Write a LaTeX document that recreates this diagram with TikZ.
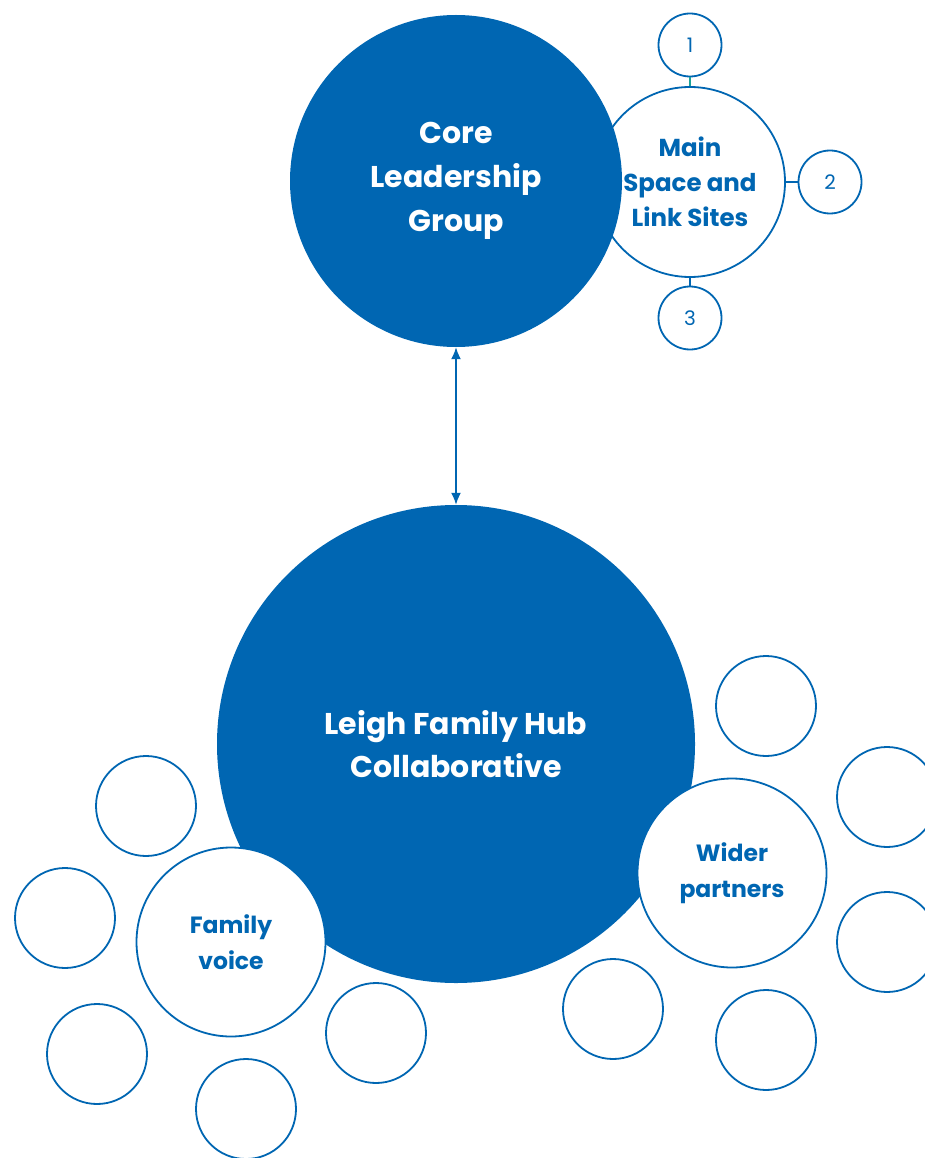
\documentclass[tikz,border=0pt]{standalone}
\usepackage{fontspec}
\setmainfont{Poppins}
\usetikzlibrary{arrows.meta,positioning}
\definecolor{hubblue}{HTML}{0066B2}
\definecolor{linkteal}{HTML}{1AA39A}
\tikzset{
  bigdisc/.style={circle,fill=hubblue,text=white,align=center,inner sep=0pt},
  ring/.style={circle,draw=hubblue,line width=1.8pt,fill=white,text=hubblue,align=center,inner sep=0pt},
  link/.style={draw=hubblue,line width=1.8pt},
}
\begin{document}
\begin{tikzpicture}[x=1pt,y=-1pt]
\useasboundingbox (0,0) rectangle (925,1158);

\coordinate (c0) at (456,181);
\coordinate (c1) at (690,182);
\coordinate (c2) at (456,744);
\coordinate (c3) at (231,942);
\coordinate (c4) at (732,873);

% sites ring sits under the core disc
\node (sites) at (c1) [ring,minimum size=190pt,font={\fontsize{24.5pt}{35pt}\selectfont\bfseries}] {Main\\Space and\\Link Sites};
\node (s1) at (690,45) [ring,minimum size=63pt,font={\fontsize{20pt}{22pt}\selectfont}] {1};
\node (s2) at (830,182) [ring,minimum size=63pt,font={\fontsize{20pt}{22pt}\selectfont}] {2};
\node (s3) at (690,318) [ring,minimum size=63pt,font={\fontsize{20pt}{22pt}\selectfont}] {3};
\draw[link,draw=linkteal] (s1) -- (sites);
\draw[link] (s2) -- (sites);
\draw[link] (s3) -- (sites);

\node (core) at (c0) [bigdisc,minimum size=332pt,font={\fontsize{30pt}{44pt}\selectfont\bfseries}] {Core\\Leadership\\Group};
\node (hub) at (c2) [bigdisc,minimum size=478pt,font={\fontsize{30pt}{43pt}\selectfont\bfseries}] {Leigh Family Hub\\Collaborative};

\draw[hubblue,line width=1.8pt,{Latex[length=12pt,width=10pt]}-{Latex[length=12pt,width=10pt]}] (core) -- (hub);

\node (family) at (c3) [ring,minimum size=189pt,font={\fontsize{23.5pt}{36pt}\selectfont\bfseries}] {Family\\voice};
\node (wider) at (c4) [ring,minimum size=189pt,font={\fontsize{23.5pt}{36pt}\selectfont\bfseries}] {Wider\\partners};

\foreach \x/\y [count=\i] in {146/806,65/918,97/1054,246/1109,376/1033} {
  \node (f\i) at (\x,\y) [ring,minimum size=100pt] {};
}
\foreach \x/\y [count=\i] in {766/706,887/797,887/942,766/1040,613/1009} {
  \node (w\i) at (\x,\y) [ring,minimum size=100pt] {};
}
\end{tikzpicture}
\end{document}
